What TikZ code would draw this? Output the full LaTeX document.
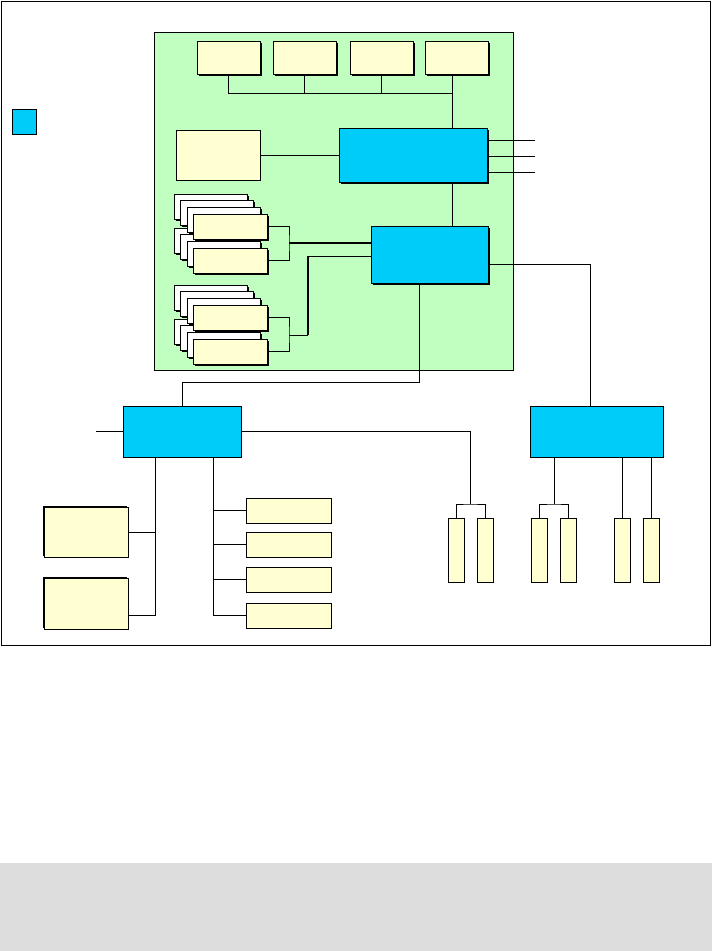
\documentclass[tikz,border=0pt]{standalone}
\usepackage[dvipsnames,svgnames,x11names]{xcolor}
\usepackage{tikz}
\usetikzlibrary{
  shapes.geometric, positioning, calc, shadows, backgrounds
}
\definecolor{panelgreen}{HTML}{C0FFC0}
\definecolor{unitblue}{HTML}{00CCFA}
\definecolor{itemyellow}{HTML}{FFFFD2}
\definecolor{pagegray}{HTML}{DDDDDD}
\tikzstyle{unit} = [
  rectangle, draw=black, fill=unitblue,
  line width=1pt, inner sep=0pt
]
\tikzstyle{item} = [
  rectangle, draw=black, fill=itemyellow,
  line width=1pt, inner sep=0pt
]
\tikzstyle{blank} = [
  rectangle, draw=black, fill=white, line width=1pt, inner sep=0pt,
  minimum width=73pt, minimum height=25pt
]
\tikzstyle{shadowed} = [drop shadow={shadow xshift=1.5pt, shadow yshift=-1.5pt, fill=black, opacity=1}]
\tikzstyle{shadowedtl} = [drop shadow={shadow xshift=-1.5pt, shadow yshift=1.5pt, fill=black, opacity=1}]
\tikzstyle{link} = [line width=1pt]
\tikzstyle{trunk} = [line width=2pt]

\newcommand{\cardstack}[3]{%
  \node[blank, shadowed] (#1-1) at (#2+36.5, #3+12.5) {};
  \node[blank, shadowed] (#1-2) at (#2+42.5, #3+18.5) {};
  \node[blank, shadowed] (#1-3) at (#2+49.5, #3+25.5) {};
  \node[item, shadowed, minimum width=74pt, minimum height=25pt] (#1) at (#2+56, #3+32.5) {};
}

\begin{document}
\begin{tikzpicture}[x=1pt, y=-1pt]

  \useasboundingbox (0,0) rectangle (712,951);
  \fill[pagegray] (0,863) rectangle (712,951);
  \draw[link] (1,1) rectangle (710,645);

  \node[rectangle, draw=black, fill=panelgreen, line width=1pt, inner sep=0pt,
        minimum width=359pt, minimum height=338pt] (panel) at (333.5,201) {};

  \node[unit, minimum width=24pt, minimum height=25pt] (key) at (24,121.5) {};

  \node[item, shadowed, minimum width=63pt, minimum height=33pt] (dev1) at (228.5,57.5) {};
  \node[item, shadowed, minimum width=63pt, minimum height=33pt] (dev2) at (304.5,57.5) {};
  \node[item, shadowed, minimum width=63pt, minimum height=33pt] (dev3) at (381.5,57.5) {};
  \node[item, shadowed, minimum width=63pt, minimum height=33pt] (dev4) at (456.5,57.5) {};

  \node[item, minimum width=84pt, minimum height=50pt] (console) at (218,155) {};
  \node[unit, shadowed, minimum width=148pt, minimum height=54pt] (cpu) at (413,155) {};
  \node[unit, shadowed, minimum width=117pt, minimum height=57pt] (hub) at (429.5,254.5) {};

  \cardstack{memB}{174}{228}
  \cardstack{memA}{174}{194}
  \cardstack{memD}{174}{319}
  \cardstack{memC}{174}{285}

  \node[unit, minimum width=118pt, minimum height=51pt] (io) at (182,431.5) {};
  \node[unit, minimum width=133pt, minimum height=51pt] (ctrl) at (596.5,431.5) {};

  \node[item, shadowedtl, minimum width=84pt, minimum height=50pt] (disk1) at (86,532) {};
  \node[item, shadowedtl, minimum width=84pt, minimum height=51pt] (disk2) at (86,603.5) {};

  \node[item, minimum width=85pt, minimum height=25pt] (port1) at (288.5,510.5) {};
  \node[item, minimum width=85pt, minimum height=25pt] (port2) at (288.5,544.5) {};
  \node[item, minimum width=85pt, minimum height=25pt] (port3) at (288.5,579.5) {};
  \node[item, minimum width=85pt, minimum height=25pt] (port4) at (288.5,615.5) {};

  \node[item, minimum width=16pt, minimum height=64pt] (bay1) at (456,550) {};
  \node[item, minimum width=16pt, minimum height=64pt] (bay2) at (485,550) {};
  \node[item, minimum width=16pt, minimum height=64pt] (bay3) at (539,550) {};
  \node[item, minimum width=16pt, minimum height=64pt] (bay4) at (568.5,550) {};
  \node[item, minimum width=16pt, minimum height=64pt] (bay5) at (622.5,550) {};
  \node[item, minimum width=16pt, minimum height=64pt] (bay6) at (651.5,550) {};

  % bus to the top row
  \coordinate (bus) at (0,93);
  \coordinate (spine) at (452,0);
  \draw[link] (dev1.south) -- (dev1.south |- bus) -- (spine |- bus);
  \draw[link] (dev2.south) -- (dev2.south |- bus);
  \draw[link] (dev3.south) -- (dev3.south |- bus);
  \draw[link] (spine |- dev4.south) -- (spine |- cpu.north);
  \draw[link] (spine |- cpu.south) -- (spine |- hub.north);
  \draw[link] (console.east) -- (console.east -| cpu.west);

  \coordinate (out1) at (535,140);
  \coordinate (out2) at (535,156);
  \coordinate (out3) at (535,172);
  \draw[link] (out1 -| cpu.east) -- (out1);
  \draw[link] (out2 -| cpu.east) -- (out2);
  \draw[link] (out3 -| cpu.east) -- (out3);

  % memory stacks
  \coordinate (jA) at (289,243);
  \draw[link] (memA.east) -| (jA) |- (memB.east);
  \draw[trunk] (jA) -- (jA -| hub.west);
  \coordinate (jC) at (289,335);
  \coordinate (kC) at (308,335);
  \coordinate (kC2) at (308,256);
  \draw[link] (memC.east) -| (jC) |- (memD.east);
  \draw[link] (jC) -- (kC);
  \draw[trunk] (kC) -- (kC2);
  \draw[link] (kC2) -- (kC2 -| hub.west);

  % lower units
  \coordinate (drop) at (0,382);
  \draw[link] ([xshift=-10pt]hub.south) |- (io.north |- drop) -- (io.north);
  \draw[link] ([yshift=-10pt]hub.east) -| ([xshift=-6pt]ctrl.north);

  \coordinate (ext) at (96,431.5);
  \draw[link] (ext) -- (io.west);
  \coordinate (fork1) at (470,504);
  \draw[link] (io.east) -| (fork1);
  \draw[link] (bay1.north) |- (fork1) -| (bay2.north);

  \coordinate (fork2) at (554,504);
  \draw[link] (fork2 |- ctrl.south) -- (fork2);
  \draw[link] (bay3.north) |- (fork2) -| (bay4.north);
  \draw[link] (bay5.north) -- (bay5.north |- ctrl.south);
  \draw[link] (bay6.north) -- (bay6.north |- ctrl.south);

  \coordinate (spineL) at (155,0);
  \coordinate (spineR) at (213,0);
  \draw[link] (spineL |- io.south) |- ([yshift=-12pt]disk2.east);
  \draw[link] (disk1.east) -- (disk1.east -| spineL);
  \draw[link] (spineR |- io.south) |- (port4.west);
  \draw[link] (port1.west -| spineR) -- (port1.west);
  \draw[link] (port2.west -| spineR) -- (port2.west);
  \draw[link] (port3.west -| spineR) -- (port3.west);

\end{tikzpicture}
\end{document}
